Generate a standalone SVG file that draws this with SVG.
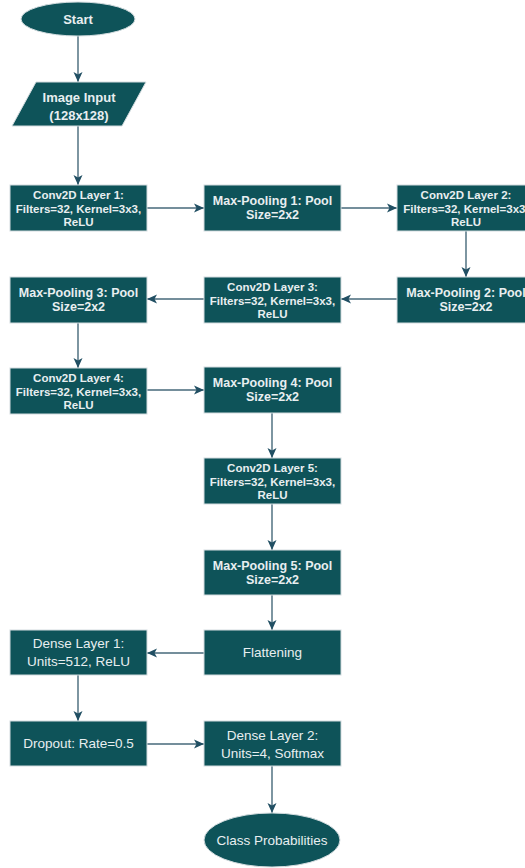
<svg xmlns="http://www.w3.org/2000/svg" width="525" height="868" viewBox="0 0 525 868">
<defs>
<marker id="arr" markerUnits="userSpaceOnUse" markerWidth="12" markerHeight="10" refX="10" refY="5" orient="auto">
<path d="M0,0.5 L10,5 L0,9.5 L2.5,5 Z" fill="#214f63"/>
</marker>
<style>
.n{fill:#0e5359;stroke:#d3dcdf;stroke-width:1}
.t{font-family:"Liberation Sans",Arial,sans-serif;fill:#e8eef0;text-anchor:middle}
.b{font-weight:bold}
.s{font-size:11.5px}
.m{font-size:12.5px}
.r{font-size:13.5px}
.c line{stroke:#46697a;stroke-width:1.4;marker-end:url(#arr)}
</style>
</defs>
<rect width="525" height="868" fill="#ffffff"/>
<g class="c" id="connectors">
<line x1="78" y1="36" x2="78" y2="82"/>
<line x1="78" y1="126" x2="78" y2="185"/>
<line x1="147" y1="208" x2="204" y2="208"/>
<line x1="341" y1="208" x2="397" y2="208"/>
<line x1="466" y1="231" x2="466" y2="277"/>
<line x1="397" y1="299" x2="341" y2="299"/>
<line x1="204" y1="299" x2="147" y2="299"/>
<line x1="78" y1="323" x2="78" y2="368"/>
<line x1="147" y1="390" x2="204" y2="390"/>
<line x1="272" y1="413" x2="272" y2="458"/>
<line x1="272" y1="504" x2="272" y2="550"/>
<line x1="272" y1="595" x2="272" y2="630"/>
<line x1="204" y1="653" x2="147" y2="653"/>
<line x1="78" y1="675" x2="78" y2="721"/>
<line x1="147" y1="744" x2="204" y2="744"/>
<line x1="272" y1="766" x2="272" y2="813"/>
</g>
<g id="start">
<ellipse class="n" cx="78" cy="19" rx="57" ry="17"/>
<text class="t b" x="78" y="24" font-size="13">Start</text>
</g>
<g id="image-input">
<polygon class="n" points="36,82 146,82 122,126 12,126"/>
<text class="t b" x="79" y="101.5" font-size="13">Image Input</text>
<text class="t b" x="79" y="119.5" font-size="13">(128x128)</text>
</g>
<g id="conv1">
<rect class="n" x="10" y="185" width="137" height="46"/>
<text class="t b s" x="78.5" y="199">Conv2D Layer 1:</text>
<text class="t b s" x="78.5" y="212.5">Filters=32, Kernel=3x3,</text>
<text class="t b s" x="78.5" y="226">ReLU</text>
</g>
<g id="maxpool1">
<rect class="n" x="204" y="185" width="137" height="46"/>
<text class="t b m" x="272.5" y="205">Max-Pooling 1: Pool</text>
<text class="t b m" x="272.5" y="219">Size=2x2</text>
</g>
<g id="conv2">
<rect class="n" x="397" y="185" width="138" height="46"/>
<text class="t b s" x="466" y="199">Conv2D Layer 2:</text>
<text class="t b s" x="466" y="212.5">Filters=32, Kernel=3x3,</text>
<text class="t b s" x="466" y="226">ReLU</text>
</g>
<g id="maxpool2">
<rect class="n" x="397" y="277" width="138" height="46"/>
<text class="t b m" x="466" y="297">Max-Pooling 2: Pool</text>
<text class="t b m" x="466" y="311">Size=2x2</text>
</g>
<g id="conv3">
<rect class="n" x="204" y="277" width="137" height="46"/>
<text class="t b s" x="272.5" y="291">Conv2D Layer 3:</text>
<text class="t b s" x="272.5" y="304.5">Filters=32, Kernel=3x3,</text>
<text class="t b s" x="272.5" y="318">ReLU</text>
</g>
<g id="maxpool3">
<rect class="n" x="10" y="277" width="137" height="46"/>
<text class="t b m" x="78.5" y="297">Max-Pooling 3: Pool</text>
<text class="t b m" x="78.5" y="311">Size=2x2</text>
</g>
<g id="conv4">
<rect class="n" x="10" y="368" width="137" height="46"/>
<text class="t b s" x="78.5" y="382">Conv2D Layer 4:</text>
<text class="t b s" x="78.5" y="395.5">Filters=32, Kernel=3x3,</text>
<text class="t b s" x="78.5" y="409">ReLU</text>
</g>
<g id="maxpool4">
<rect class="n" x="204" y="367" width="137" height="46"/>
<text class="t b m" x="272.5" y="387">Max-Pooling 4: Pool</text>
<text class="t b m" x="272.5" y="401">Size=2x2</text>
</g>
<g id="conv5">
<rect class="n" x="204" y="458" width="137" height="46"/>
<text class="t b s" x="272.5" y="472">Conv2D Layer 5:</text>
<text class="t b s" x="272.5" y="485.5">Filters=32, Kernel=3x3,</text>
<text class="t b s" x="272.5" y="499">ReLU</text>
</g>
<g id="maxpool5">
<rect class="n" x="204" y="550" width="137" height="45"/>
<text class="t b m" x="272.5" y="569.5">Max-Pooling 5: Pool</text>
<text class="t b m" x="272.5" y="583.5">Size=2x2</text>
</g>
<g id="flattening">
<rect class="n" x="204" y="630" width="137" height="45"/>
<text class="t r" x="272.5" y="657">Flattening</text>
</g>
<g id="dense1">
<rect class="n" x="10" y="630" width="137" height="45"/>
<text class="t r" x="78.5" y="648">Dense Layer 1:</text>
<text class="t r" x="78.5" y="666">Units=512, ReLU</text>
</g>
<g id="dropout">
<rect class="n" x="10" y="721" width="137" height="45"/>
<text class="t r" x="78.5" y="748">Dropout: Rate=0.5</text>
</g>
<g id="dense2">
<rect class="n" x="204" y="721" width="137" height="45"/>
<text class="t r" x="272.5" y="740">Dense Layer 2:</text>
<text class="t r" x="272.5" y="758">Units=4, Softmax</text>
</g>
<g id="class-probabilities">
<ellipse class="n" cx="272" cy="840" rx="68" ry="27"/>
<text class="t r" x="272" y="844.5">Class Probabilities</text>
</g>
</svg>
